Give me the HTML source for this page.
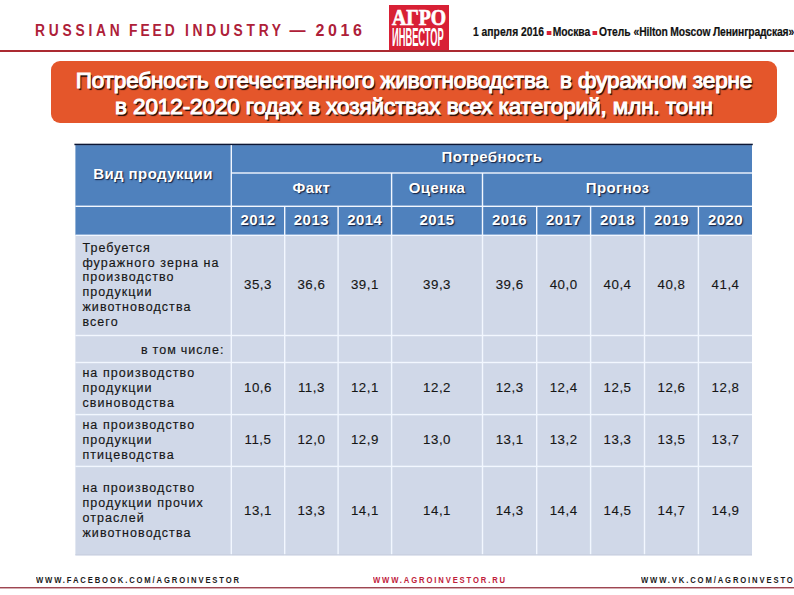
<!DOCTYPE html>
<html><head><meta charset="utf-8">
<style>
*{margin:0;padding:0;box-sizing:border-box}
html,body{width:794px;height:595px;overflow:hidden;background:#fff;font-family:"Liberation Sans",sans-serif}
.a{position:absolute}
.hw{top:20.7px;font-size:16px;font-weight:bold;color:#ae2038;letter-spacing:2px;white-space:pre;line-height:19px;transform-origin:0 0}
#logo{left:389px;top:5px;width:60px;height:46px;background:#d82035}
#logo .t1{position:absolute;left:3px;top:1px;font-family:"Liberation Serif",serif;font-weight:bold;font-size:22.5px;line-height:24px;color:#fff;-webkit-text-stroke:0.7px #fff;transform:scaleX(0.875);transform-origin:0 0;white-space:nowrap}
#logo .t2{position:absolute;left:3px;top:18px;font-size:26px;font-weight:bold;line-height:29px;color:#fff;transform:scaleX(0.358);transform-origin:0 0;white-space:nowrap}
#rline{left:0;top:50px;width:794px;height:2px;background:#ab2a31}
#date{left:473px;top:24.5px;font-size:13.3px;font-weight:bold;color:#111;white-space:pre;transform:scaleX(0.776);transform-origin:0 0;line-height:14px;-webkit-text-stroke:0.2px #111}
#date i{display:inline-block;width:6.2px;height:3.8px;background:#d82035;margin:0 2px 0 3px;vertical-align:0.5px}
#title{left:51.3px;top:61.4px;width:725.5px;height:61.9px;background:#e4562b;border-radius:9px}
#title div{position:absolute;left:0;width:725.3px;text-align:center;color:#fff;font-weight:normal;-webkit-text-stroke:1.05px #fff;font-size:22.5px;letter-spacing:-0.2px;white-space:pre;text-shadow:1.5px 1.6px 1px rgba(20,8,4,1)}
.hc{position:absolute;color:#fff;font-weight:bold;font-size:15px;letter-spacing:0.42px;padding-bottom:3.6px;text-align:center;text-shadow:1px 1.4px 1.2px rgba(12,20,50,0.95);display:flex;align-items:center;justify-content:center}
.bc{position:absolute;color:#161616;font-size:12.5px;letter-spacing:1.08px;display:flex;align-items:center;justify-content:center;line-height:14.9px;-webkit-text-stroke:0.15px #161616}
.br{justify-content:flex-end;padding-right:6px;padding-top:2.6px;word-spacing:-0.8px}
.bl{justify-content:flex-start;padding-left:7px}
.bn{font-size:13.3px;letter-spacing:0.5px;-webkit-text-stroke:0.12px #161616}
#foot div{position:absolute;top:575.4px;font-size:9px;font-weight:bold;letter-spacing:2.2px;transform:scaleX(0.85);transform-origin:0 0;white-space:pre;color:#1a1a1a;line-height:10px}
</style></head><body>
<div class="a hw" style="left:35px;letter-spacing:4.43px;transform:scaleX(0.86)">RUSSIAN</div>
<div class="a hw" style="left:128.5px;letter-spacing:3.5px;transform:scaleX(0.86)">FEED</div>
<div class="a hw" style="left:185px;letter-spacing:4.35px;transform:scaleX(0.86)">INDUSTRY</div>
<div class="a hw" style="left:289.5px">—</div>
<div class="a hw" style="left:315.5px;letter-spacing:3.6px">2016</div>
<div class="a" id="logo"><span class="t1">АГРО</span><span class="t2">ИНВЕСТОР</span></div>
<div class="a" id="rline"></div>
<div class="a" id="date">1 апреля 2016<i></i>Москва<i></i>Отель <span style="letter-spacing:-0.17px">«Hilton Moscow Ленинградская»</span></div>
<div class="a" id="title">
<div style="top:6.5px;letter-spacing:-0.13px">Потребность отечественного животноводства  в фуражном зерне</div>
<div style="top:32.5px;letter-spacing:-0.1px">в 2012-2020 годах в хозяйствах всех категорий, млн. тонн</div>
</div>

<!--TBL-->
<svg class="a" style="left:0;top:0" width="794" height="595" viewBox="0 0 794 595">
<rect x="75.4" y="145.1" width="676.60" height="90.20" fill="#4f81bd"/>
<rect x="75.4" y="235.3" width="676.60" height="320.10" fill="#d0d8e8"/>
<rect x="74.4" y="143.7" width="678.40" height="1.5" fill="#0c1634"/>
<rect x="231.30" y="172.30" width="520.70" height="1.4" fill="#f2f7ff"/>
<rect x="75.40" y="205.60" width="676.60" height="1.4" fill="#f2f7ff"/>
<rect x="75.40" y="234.60" width="676.60" height="1.4" fill="#f2f7ff"/>
<rect x="75.40" y="334.80" width="676.60" height="1.4" fill="#f2f7ff"/>
<rect x="75.40" y="361.80" width="676.60" height="1.4" fill="#f2f7ff"/>
<rect x="75.40" y="413.90" width="676.60" height="1.4" fill="#f2f7ff"/>
<rect x="75.40" y="465.70" width="676.60" height="1.4" fill="#f2f7ff"/>
<rect x="230.60" y="145.10" width="1.4" height="410.30" fill="#f2f7ff"/>
<rect x="284.00" y="206.30" width="1.4" height="349.10" fill="#f2f7ff"/>
<rect x="337.40" y="206.30" width="1.4" height="349.10" fill="#f2f7ff"/>
<rect x="390.90" y="173.00" width="1.4" height="382.40" fill="#f2f7ff"/>
<rect x="481.80" y="173.00" width="1.4" height="382.40" fill="#f2f7ff"/>
<rect x="536.00" y="206.30" width="1.4" height="349.10" fill="#f2f7ff"/>
<rect x="589.90" y="206.30" width="1.4" height="349.10" fill="#f2f7ff"/>
<rect x="643.80" y="206.30" width="1.4" height="349.10" fill="#f2f7ff"/>
<rect x="697.70" y="206.30" width="1.4" height="349.10" fill="#f2f7ff"/>
<rect x="75.4" y="554.00" width="676.60" height="1.4" fill="#c8cfde" opacity="0.8"/>
</svg>
<div class="hc" style="left:75.40px;top:145.10px;width:155.20px;height:60.50px">Вид продукции</div>
<div class="hc" style="left:232.00px;top:145.10px;width:520.00px;height:27.20px">Потребность</div>
<div class="hc" style="left:232.00px;top:173.70px;width:158.90px;height:31.90px">Факт</div>
<div class="hc" style="left:392.30px;top:173.70px;width:89.50px;height:31.90px">Оценка</div>
<div class="hc" style="left:483.20px;top:173.70px;width:268.80px;height:31.90px">Прогноз</div>
<div class="hc" style="left:232.00px;top:207.00px;width:52.00px;height:27.60px">2012</div>
<div class="hc" style="left:285.40px;top:207.00px;width:52.00px;height:27.60px">2013</div>
<div class="hc" style="left:338.80px;top:207.00px;width:52.10px;height:27.60px">2014</div>
<div class="hc" style="left:392.30px;top:207.00px;width:89.50px;height:27.60px">2015</div>
<div class="hc" style="left:483.20px;top:207.00px;width:52.80px;height:27.60px">2016</div>
<div class="hc" style="left:537.40px;top:207.00px;width:52.50px;height:27.60px">2017</div>
<div class="hc" style="left:591.30px;top:207.00px;width:52.50px;height:27.60px">2018</div>
<div class="hc" style="left:645.20px;top:207.00px;width:52.50px;height:27.60px">2019</div>
<div class="hc" style="left:699.10px;top:207.00px;width:52.90px;height:27.60px">2020</div>
<div class="bc bl" style="left:75.40px;top:236.00px;width:155.20px;height:98.80px">Требуется<br>фуражного зерна на<br>производство<br>продукции<br>животноводства<br>всего</div>
<div class="bc bn" style="left:232.00px;top:236.00px;width:52.00px;height:98.80px">35,3</div>
<div class="bc bn" style="left:285.40px;top:236.00px;width:52.00px;height:98.80px">36,6</div>
<div class="bc bn" style="left:338.80px;top:236.00px;width:52.10px;height:98.80px">39,1</div>
<div class="bc bn" style="left:392.30px;top:236.00px;width:89.50px;height:98.80px">39,3</div>
<div class="bc bn" style="left:483.20px;top:236.00px;width:52.80px;height:98.80px">39,6</div>
<div class="bc bn" style="left:537.40px;top:236.00px;width:52.50px;height:98.80px">40,0</div>
<div class="bc bn" style="left:591.30px;top:236.00px;width:52.50px;height:98.80px">40,4</div>
<div class="bc bn" style="left:645.20px;top:236.00px;width:52.50px;height:98.80px">40,8</div>
<div class="bc bn" style="left:699.10px;top:236.00px;width:52.90px;height:98.80px">41,4</div>
<div class="bc br" style="left:75.40px;top:336.20px;width:155.20px;height:25.60px">в том числе:</div>
<div class="bc bl" style="left:75.40px;top:363.20px;width:155.20px;height:50.70px">на производство<br>продукции<br>свиноводства</div>
<div class="bc bn" style="left:232.00px;top:363.20px;width:52.00px;height:50.70px">10,6</div>
<div class="bc bn" style="left:285.40px;top:363.20px;width:52.00px;height:50.70px">11,3</div>
<div class="bc bn" style="left:338.80px;top:363.20px;width:52.10px;height:50.70px">12,1</div>
<div class="bc bn" style="left:392.30px;top:363.20px;width:89.50px;height:50.70px">12,2</div>
<div class="bc bn" style="left:483.20px;top:363.20px;width:52.80px;height:50.70px">12,3</div>
<div class="bc bn" style="left:537.40px;top:363.20px;width:52.50px;height:50.70px">12,4</div>
<div class="bc bn" style="left:591.30px;top:363.20px;width:52.50px;height:50.70px">12,5</div>
<div class="bc bn" style="left:645.20px;top:363.20px;width:52.50px;height:50.70px">12,6</div>
<div class="bc bn" style="left:699.10px;top:363.20px;width:52.90px;height:50.70px">12,8</div>
<div class="bc bl" style="left:75.40px;top:415.30px;width:155.20px;height:50.40px">на производство<br>продукции<br>птицеводства</div>
<div class="bc bn" style="left:232.00px;top:415.30px;width:52.00px;height:50.40px">11,5</div>
<div class="bc bn" style="left:285.40px;top:415.30px;width:52.00px;height:50.40px">12,0</div>
<div class="bc bn" style="left:338.80px;top:415.30px;width:52.10px;height:50.40px">12,9</div>
<div class="bc bn" style="left:392.30px;top:415.30px;width:89.50px;height:50.40px">13,0</div>
<div class="bc bn" style="left:483.20px;top:415.30px;width:52.80px;height:50.40px">13,1</div>
<div class="bc bn" style="left:537.40px;top:415.30px;width:52.50px;height:50.40px">13,2</div>
<div class="bc bn" style="left:591.30px;top:415.30px;width:52.50px;height:50.40px">13,3</div>
<div class="bc bn" style="left:645.20px;top:415.30px;width:52.50px;height:50.40px">13,5</div>
<div class="bc bn" style="left:699.10px;top:415.30px;width:52.90px;height:50.40px">13,7</div>
<div class="bc bl" style="left:75.40px;top:467.10px;width:155.20px;height:88.30px">на производство<br>продукции прочих<br>отраслей<br>животноводства</div>
<div class="bc bn" style="left:232.00px;top:467.10px;width:52.00px;height:88.30px">13,1</div>
<div class="bc bn" style="left:285.40px;top:467.10px;width:52.00px;height:88.30px">13,3</div>
<div class="bc bn" style="left:338.80px;top:467.10px;width:52.10px;height:88.30px">14,1</div>
<div class="bc bn" style="left:392.30px;top:467.10px;width:89.50px;height:88.30px">14,1</div>
<div class="bc bn" style="left:483.20px;top:467.10px;width:52.80px;height:88.30px">14,3</div>
<div class="bc bn" style="left:537.40px;top:467.10px;width:52.50px;height:88.30px">14,4</div>
<div class="bc bn" style="left:591.30px;top:467.10px;width:52.50px;height:88.30px">14,5</div>
<div class="bc bn" style="left:645.20px;top:467.10px;width:52.50px;height:88.30px">14,7</div>
<div class="bc bn" style="left:699.10px;top:467.10px;width:52.90px;height:88.30px">14,9</div>
<!--/TBL-->

<div id="foot">
<div style="left:36px">WWW.FACEBOOK.COM/AGROINVESTOR</div>
<div style="left:373px;color:#c0203a">WWW.AGROINVESTOR.RU</div>
<div style="left:641px">WWW.VK.COM/AGROINVESTOR</div>
</div>
<svg class="a" style="left:0;top:580px" width="794" height="15"><rect x="0" y="7.1" width="794" height="1.3" fill="#94323f"/></svg>
</body></html>
